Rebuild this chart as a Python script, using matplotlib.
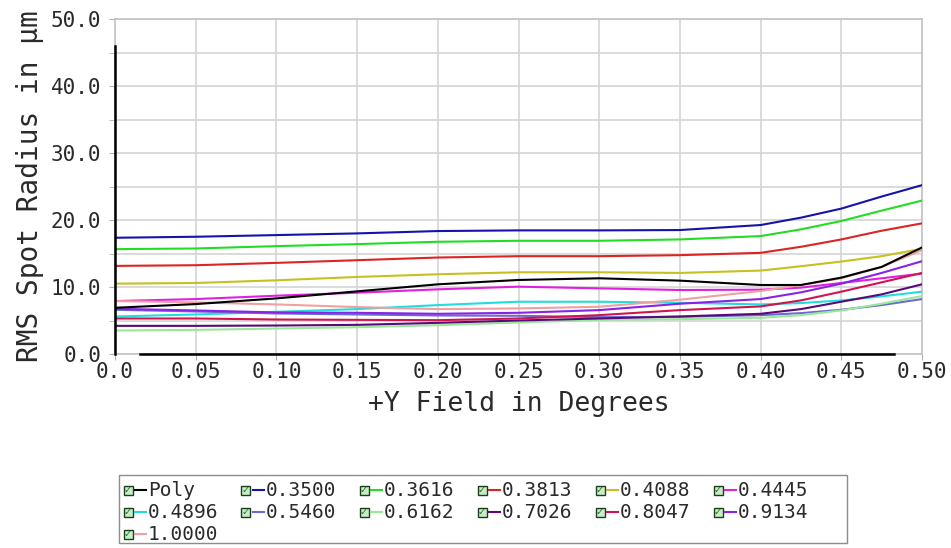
import matplotlib
matplotlib.use("Agg")
import matplotlib.pyplot as plt
from matplotlib.patches import Rectangle
from matplotlib.lines import Line2D

# Field points (degrees) and RMS spot radius (um) per wavelength
field = [0.0, 0.05, 0.10, 0.15, 0.20, 0.25, 0.30, 0.35, 0.40, 0.425, 0.45, 0.475, 0.50]

poly = [6.9, 7.45, 8.3, 9.35, 10.4, 11.05, 11.3, 10.95, 10.3, 10.3, 11.4, 13.0, 15.9]
w3500 = [17.35, 17.5, 17.75, 18.0, 18.35, 18.45, 18.45, 18.5, 19.25, 20.35, 21.7, 23.5, 25.2]
w3616 = [15.65, 15.75, 16.1, 16.4, 16.75, 16.9, 16.9, 17.1, 17.6, 18.6, 19.85, 21.4, 22.9]
w3813 = [13.15, 13.25, 13.6, 14.0, 14.4, 14.6, 14.6, 14.75, 15.1, 16.0, 17.1, 18.4, 19.5]
w4088 = [10.5, 10.6, 11.0, 11.5, 11.9, 12.2, 12.2, 12.1, 12.45, 13.1, 13.8, 14.6, 15.7]
w4445 = [7.9, 8.2, 8.7, 9.15, 9.65, 10.05, 9.8, 9.55, 9.6, 9.9, 10.6, 11.3, 12.0]
w4896 = [5.6, 5.9, 6.3, 6.7, 7.3, 7.8, 7.8, 7.65, 7.4, 7.6, 8.0, 8.6, 9.3]
w5460 = [6.6, 6.35, 6.05, 5.9, 5.75, 5.7, 5.5, 5.55, 5.8, 6.1, 6.6, 7.3, 8.2]
w6162 = [3.5, 3.6, 3.8, 4.0, 4.3, 4.7, 5.1, 5.2, 5.4, 5.8, 6.5, 7.5, 8.65]
w7026 = [4.2, 4.2, 4.25, 4.35, 4.65, 5.0, 5.3, 5.6, 6.0, 6.7, 7.8, 8.9, 10.4]
w8047 = [5.3, 5.3, 5.15, 5.1, 5.05, 5.3, 5.8, 6.55, 7.1, 8.0, 9.3, 10.7, 12.1]
w9134 = [6.75, 6.5, 6.2, 6.15, 6.0, 6.15, 6.55, 7.5, 8.2, 9.2, 10.5, 12.1, 13.85]
w10000 = [7.9, 7.7, 7.4, 7.0, 6.7, 6.8, 7.05, 8.1, 9.4, 10.3, 11.3, 13.0, 15.5]

labels = ["Poly", "0.3500", "0.3616", "0.3813", "0.4088", "0.4445",
          "0.4896", "0.5460", "0.6162", "0.7026", "0.8047", "0.9134", "1.0000"]
series = [poly, w3500, w3616, w3813, w4088, w4445,
          w4896, w5460, w6162, w7026, w8047, w9134, w10000]
colors = ["#000000", "#1414a8", "#22dd22", "#dd2424", "#c8c020", "#e020e0",
          "#22dddd", "#6a6ad0", "#98e898", "#5a0a78", "#d01450", "#8a22e6", "#f0a0a0"]

x_ticks = [0.0, 0.05, 0.10, 0.15, 0.20, 0.25, 0.30, 0.35, 0.40, 0.45, 0.50]
x_tick_labels = ["0.0", "0.05", "0.10", "0.15", "0.20", "0.25",
                 "0.30", "0.35", "0.40", "0.45", "0.50"]
y_ticks = [0, 10, 20, 30, 40, 50]

W, H = 951, 548
mono = "DejaVu Sans Mono"
ink = "#2a2a2a"

fig = plt.figure(figsize=(W / 100, H / 100), dpi=100)
ax = fig.add_axes([115 / W, 1 - 354 / H, 807 / W, 335 / H])

# draw the wavelength curves first so the black poly curve stays on top
order = list(range(1, len(series))) + [0]
for i in order:
    ax.plot(field, series[i], color=colors[i], lw=1.5, zorder=3)

ax.set_xlim(0, 0.5)
ax.set_ylim(0, 50)
ax.set_xticks(x_ticks)
ax.set_xticklabels(x_tick_labels, fontfamily=mono, fontsize=15)
ax.set_yticks(y_ticks)
ax.set_yticklabels([f"{v:.1f}" for v in y_ticks], fontfamily=mono, fontsize=15)
ax.set_yticks(range(5, 50, 10), minor=True)
ax.grid(True, which="both", color="#d4d4d4", lw=1.2, zorder=0)
ax.tick_params(which="both", direction="out", length=4, color="#b0b0b0",
               labelcolor=ink)
ax.tick_params(axis="x", pad=2)
ax.tick_params(axis="y", pad=6)

for s in ax.spines.values():
    s.set_color("#c4c4c4")
    s.set_linewidth(1.2)

# dark axis strokes along the left and bottom edges
ax.plot([0, 0], [0, 0.92], transform=ax.transAxes, color="black", lw=1.8,
        clip_on=False, zorder=5)
ax.plot([0.031, 0.965], [0, 0], transform=ax.transAxes, color="black", lw=1.8,
        clip_on=False, zorder=5)

ax.set_xlabel("+Y Field in Degrees", fontfamily=mono, fontsize=19, labelpad=6,
              color=ink)
ax.set_ylabel("RMS Spot Radius in µm", fontfamily=mono, fontsize=20, labelpad=5,
              color=ink)

# legend box with check boxes underneath the plot
fig.add_artist(Rectangle((119 / W, 1 - 543 / H), 728 / W, 68 / H,
                         transform=fig.transFigure, fill=False,
                         edgecolor="#8c8c8c", lw=1.0))
col_x = [128 + 118 * c for c in range(6)]
row_y = [490, 512, 534]
for k, (lab, col) in enumerate(zip(labels, colors)):
    cx = col_x[k % 6]
    cy = row_y[k // 6]
    fig.add_artist(Rectangle(((cx - 4.5) / W, 1 - (cy + 4.5) / H), 9 / W, 9 / H,
                             transform=fig.transFigure, facecolor="#c8ecc8",
                             edgecolor="#1e3c1e", lw=1.0))
    fig.text(cx / W, 1 - cy / H, "✓", color="#127a12", fontsize=7,
             ha="center", va="center", fontweight="bold")
    fig.add_artist(Line2D([(cx + 7) / W, (cx + 18) / W], [1 - cy / H, 1 - cy / H],
                          transform=fig.transFigure, color=col, lw=1.5))
    fig.text((cx + 20) / W, 1 - cy / H, lab, fontfamily=mono, fontsize=14,
             color=ink, ha="left", va="center")

fig.savefig("out.png", dpi=100)
